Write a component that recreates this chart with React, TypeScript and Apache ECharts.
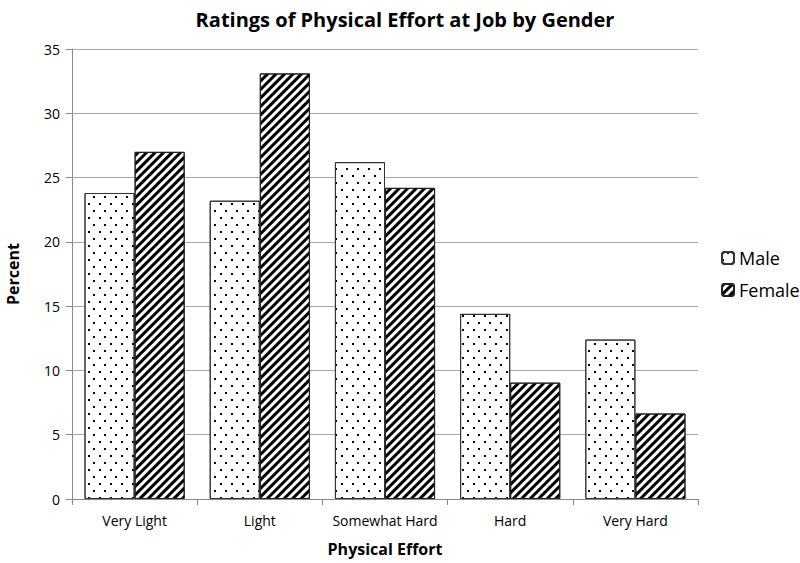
import React, { useEffect, useRef } from "react";
import * as echarts from "echarts";

const categories = ["Very Light", "Light", "Somewhat Hard", "Hard", "Very Hard"];
const maleValues = [23.8, 23.2, 26.2, 14.4, 12.4];
const femaleValues = [27.0, 33.1, 24.2, 9.05, 6.65];
const yTicks = { min: 0, max: 35, interval: 5 };

const FONT = "'Open Sans', 'Liberation Sans', sans-serif";

export default function App() {
  const ref = useRef<HTMLDivElement>(null);
  useEffect(() => {
    if (!ref.current) return;
    const chart = echarts.init(ref.current, null, { renderer: "svg" });
    const dotDecal = {
      symbol: "rect",
      symbolSize: 1,
      color: "#000",
      dashArrayX: [[1.3, 8.7], [0, 5, 1.3, 3.7]],
      dashArrayY: [1.3, 4.7],
      rotation: 0,
    };
    const stripeDecal = {
      symbol: "rect",
      symbolSize: 1,
      color: "#000",
      dashArrayX: [1, 0],
      dashArrayY: [2.5, 2.4],
      rotation: -Math.PI / 4,
    };
    chart.setOption({
      animation: false,
      backgroundColor: "#fff",
      title: {
        text: "Ratings of Physical Effort at Job by Gender",
        left: 400,
        textAlign: "center",
        top: 4,
        textStyle: { fontFamily: FONT, fontSize: 20, fontWeight: "bold", color: "#000" },
      },
      legend: {
        orient: "vertical",
        left: 716,
        top: 244,
        itemWidth: 12,
        itemHeight: 12,
        itemGap: 14,
        textStyle: { fontFamily: FONT, fontSize: 18, color: "#000" },
        data: ["Male", "Female"],
      },
      grid: { left: 72, right: 102, top: 49, bottom: 64, containLabel: false, outerBoundsMode: "none" },
      xAxis: {
        type: "category",
        data: categories,
        name: "Physical Effort",
        nameLocation: "middle",
        nameGap: 42,
        nameTextStyle: { fontFamily: FONT, fontSize: 16, fontWeight: "bold", color: "#000" },
        axisLine: { lineStyle: { color: "#888", width: 1 } },
        axisTick: { show: true, length: 6, lineStyle: { color: "#888" } },
        axisLabel: { interval: 0, fontFamily: FONT, fontSize: 14, color: "#000", margin: 14 },
      },
      yAxis: {
        type: "value",
        min: yTicks.min,
        max: yTicks.max,
        interval: yTicks.interval,
        name: "Percent",
        nameLocation: "middle",
        nameGap: 51,
        nameRotate: 90,
        nameTextStyle: { fontFamily: FONT, fontSize: 16, fontWeight: "bold", color: "#000" },
        axisLine: { show: true, lineStyle: { color: "#888", width: 1 } },
        axisTick: { show: true, length: 6, lineStyle: { color: "#888" } },
        axisLabel: { fontFamily: FONT, fontSize: 14, color: "#000", margin: 12 },
        splitLine: { lineStyle: { color: "#a6a6a6", width: 1 } },
      },
      series: [
        {
          name: "Male",
          type: "bar",
          data: maleValues,
          barGap: "0%",
          barCategoryGap: "20%",
          itemStyle: { color: "#fff", borderColor: "#333", borderWidth: 1, decal: dotDecal },
        },
        {
          name: "Female",
          type: "bar",
          data: femaleValues,
          barGap: "0%",
          barCategoryGap: "20%",
          itemStyle: { color: "#fff", borderColor: "#222", borderWidth: 1, decal: stripeDecal },
        },
      ],
    });
    return () => chart.dispose();
  }, []);
  return <div ref={ref} style={{ width: 800, height: 563, position: "absolute", left: 0, top: 0 }} />;
}
